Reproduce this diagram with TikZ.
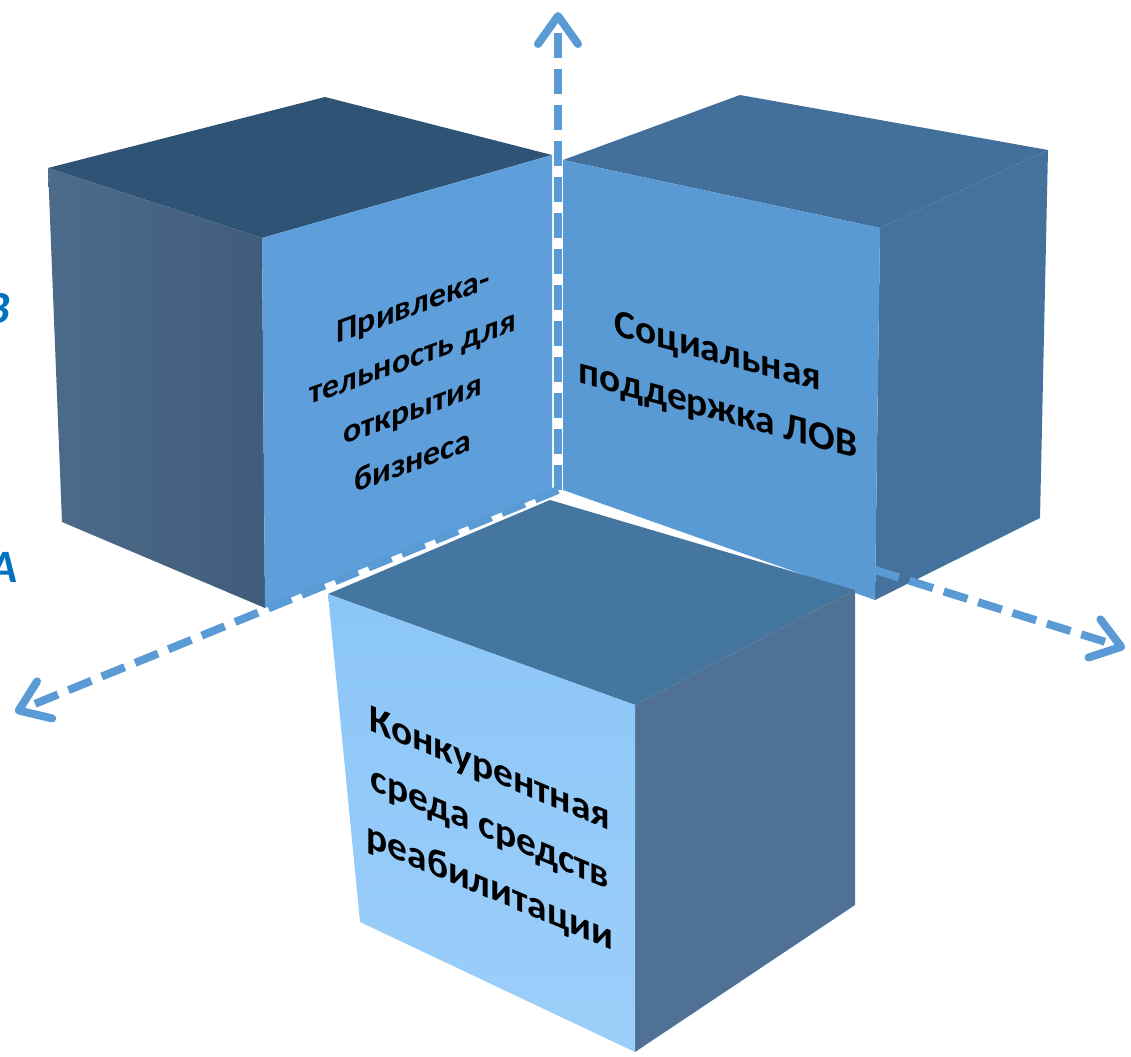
\documentclass[tikz,border=0pt]{standalone}
\usepackage{fontspec}
\setmainfont{Carlito}
\usetikzlibrary{arrows.meta}
\definecolor{axisblue}{HTML}{5B9BD5}
\definecolor{sideblue}{HTML}{0070C0}
\definecolor{ltop}{HTML}{2F5374}
\definecolor{lside}{HTML}{4C6B8A}
\definecolor{lsidedark}{HTML}{405C7A}
\definecolor{lfront}{HTML}{5E9EDB}
\definecolor{rfront}{HTML}{5A9AD4}
\definecolor{rtop}{HTML}{43709B}
\definecolor{rside}{HTML}{44729D}
\definecolor{btop}{HTML}{45769F}
\definecolor{bfront}{HTML}{8BC6F8}
\definecolor{bside}{HTML}{4E7194}

\begin{document}
\begin{tikzpicture}[x=0.025cm, y=-0.025cm,
    >={Straight Barb[round, length=7mm, width=10mm, line width=0pt 1]},
    axis/.style={->, axisblue, line width=2mm, dash pattern=on 6.2mm off 2.8mm},
    facetext/.style={font=\bfseries\fontsize{24}{37}\selectfont, align=center, text=black, inner sep=0pt},
    sidetext/.style={font=\bfseries\itshape\fontsize{33}{36}\selectfont, text=sideblue, inner sep=0pt, anchor=base east}]
    \clip (0,0) rectangle (1131,1057);

    % axes
    \coordinate (O) at (558,490);
    \coordinate (Or) at (875,570);
    \coordinate (Xend) at (1125,648);
    \coordinate (Yend) at (558,12);
    \coordinate (Zend) at (15,712);

    % left cube
    \coordinate (lA) at (48,168);
    \coordinate (lB) at (325,97);
    \coordinate (lC) at (552,155);
    \coordinate (lD) at (262,238);
    \coordinate (lE) at (552,492);
    \coordinate (lF) at (265,608);
    \coordinate (lG) at (62,522);
    \fill[ltop] (lA) -- (lB) -- (lC) -- (lD) -- cycle;
    \shade[left color=lside, right color=lsidedark] (lA) -- (lD) -- (lF) -- (lG) -- cycle;
    \fill[lfront] (lD) -- (lC) -- (lE) -- (lF) -- cycle;

    % right cube
    \coordinate (rA) at (563,160);
    \coordinate (rB) at (740,95);
    \coordinate (rC) at (1048,150);
    \coordinate (rD) at (880,228);
    \coordinate (rE) at (1040,518);
    \coordinate (rF) at (875,600);
    \coordinate (rG) at (563,490);
    \fill[rtop] (rA) -- (rB) -- (rC) -- (rD) -- cycle;
    \fill[rside] (rD) -- (rC) -- (rE) -- (rF) -- cycle;
    \fill[rfront] (rA) -- (rD) -- (rF) -- (rG) -- cycle;

    \draw[axis] (Or) -- (Xend);
    \draw[axis] (O) -- (Zend);
    \draw[axis] (O) -- (Yend);

    % bottom cube
    \coordinate (bA) at (328,594);
    \coordinate (bB) at (550,500);
    \coordinate (bC) at (855,590);
    \coordinate (bD) at (635,705);
    \coordinate (bE) at (855,905);
    \coordinate (bF) at (635,1052);
    \coordinate (bG) at (360,922);
    \fill[btop] (bA) -- (bB) -- (bC) -- (bD) -- cycle;
    \fill[bside] (bD) -- (bC) -- (bE) -- (bF) -- cycle;
    \shade[top color=bfront, bottom color=bfront!85!white] (bA) -- (bD) -- (bF) -- (bG) -- cycle;

    % labels
    \node[facetext, yslant=0.36] (business) at (413,383) {Привлека-\\тельность для\\открытия\\бизнеса};
    \node[facetext, yslant=-0.27, font=\bfseries\fontsize{28}{41}\selectfont] (support) at (718,382) {Социальная\\поддержка ЛОВ};
    \node[facetext, yslant=-0.42, font=\bfseries\fontsize{28}{42}\selectfont] (market) at (490,830) {Конкурентная\\среда средств\\реабилитации};

    \node[sidetext] (sideB) at (11,323) {В};
    \node[sidetext] (sideA) at (18,582) {А};
\end{tikzpicture}
\end{document}
